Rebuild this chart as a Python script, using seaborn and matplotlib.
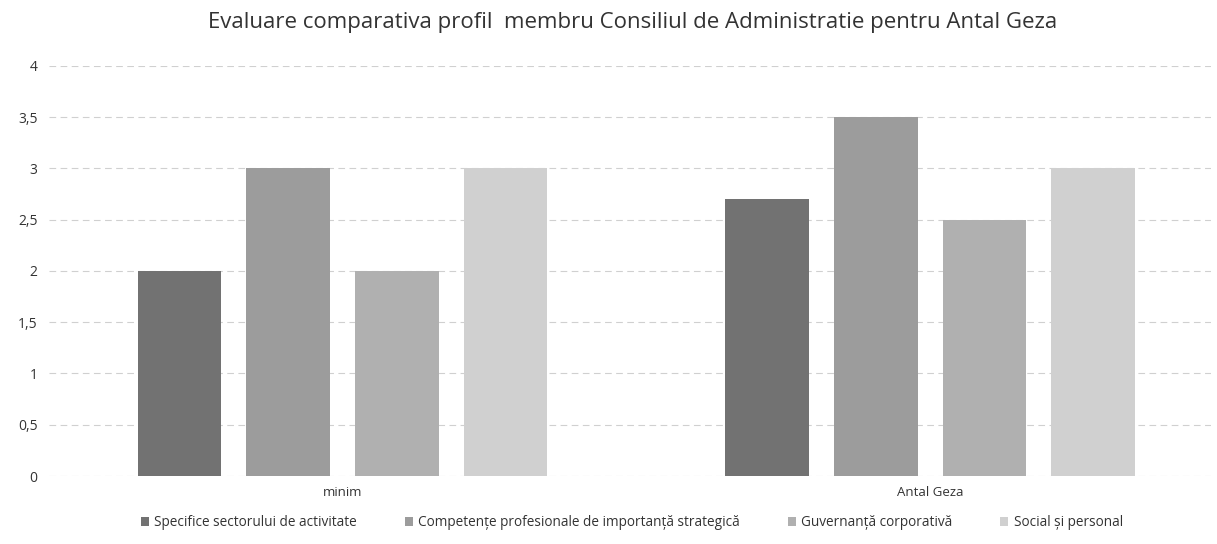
import matplotlib
matplotlib.use("Agg")
import matplotlib.pyplot as plt
import seaborn as sns
import pandas as pd
from matplotlib.patches import Patch

categories = ["minim", "Antal Geza"]
series = [
    "Specifice sectorului de activitate",
    "Competențe profesionale de importanță strategică",
    "Guvernanță corporativă",
    "Social și personal",
]
specifice = [2.0, 2.7]
competente = [3.0, 3.5]
guvernanta = [2.0, 2.5]
social = [3.0, 3.0]
colors = ["#727272", "#9c9c9c", "#b0b0b0", "#d0d0d0"]
yticks = [0, 0.5, 1, 1.5, 2, 2.5, 3, 3.5, 4]
ytick_labels = ["0", "0,5", "1", "1,5", "2", "2,5", "3", "3,5", "4"]
title = "Evaluare comparativa profil  membru Consiliul de Administratie pentru Antal Geza"

rows = []
for name, vals in zip(series, [specifice, competente, guvernanta, social]):
    for c, v in zip(categories, vals):
        rows.append({"cat": c, "val": v, "serie": name})
df = pd.DataFrame(rows)

sns.set_theme(style="white")
plt.rcParams["font.family"] = ["Open Sans", "DejaVu Sans"]

fig = plt.figure(figsize=(12.17, 5.44), dpi=100)
ax = fig.add_axes([0.04, 0.125, 0.955, 0.754])

sns.barplot(data=df, x="cat", y="val", hue="serie", order=categories,
            hue_order=series, palette=colors, width=0.74, gap=0.23,
            edgecolor="none", legend=False, ax=ax, zorder=2)

ax.set_ylim(0, 4)
ax.set_xlim(-0.5, 1.478)
ax.set_yticks(yticks)
ax.set_yticklabels(ytick_labels, fontsize=10, color="#333333")
ax.tick_params(axis="x", labelsize=9.5, colors="#333333", pad=7, length=0)
ax.tick_params(axis="y", length=0, pad=8)
ax.set_xlabel("")
ax.set_ylabel("")
for s in ax.spines.values():
    s.set_visible(False)
ax.yaxis.grid(True, color="#d0d0d0", linestyle=(0, (6, 4)), linewidth=0.8, zorder=0)
ax.set_axisbelow(True)

fig.text(0.52, 0.958, title, ha="center", va="center", fontsize=16, color="#333333")

handles = [Patch(facecolor=c, edgecolor="none") for c in colors]
fig.legend(handles, series, loc="center", bbox_to_anchor=(0.519, 0.039), ncol=4,
           frameon=False, fontsize=9.8, handlelength=0.6, handleheight=0.6,
           handletextpad=0.4, columnspacing=3.5, labelcolor="#333333")

fig.savefig("out.png", dpi=100)
